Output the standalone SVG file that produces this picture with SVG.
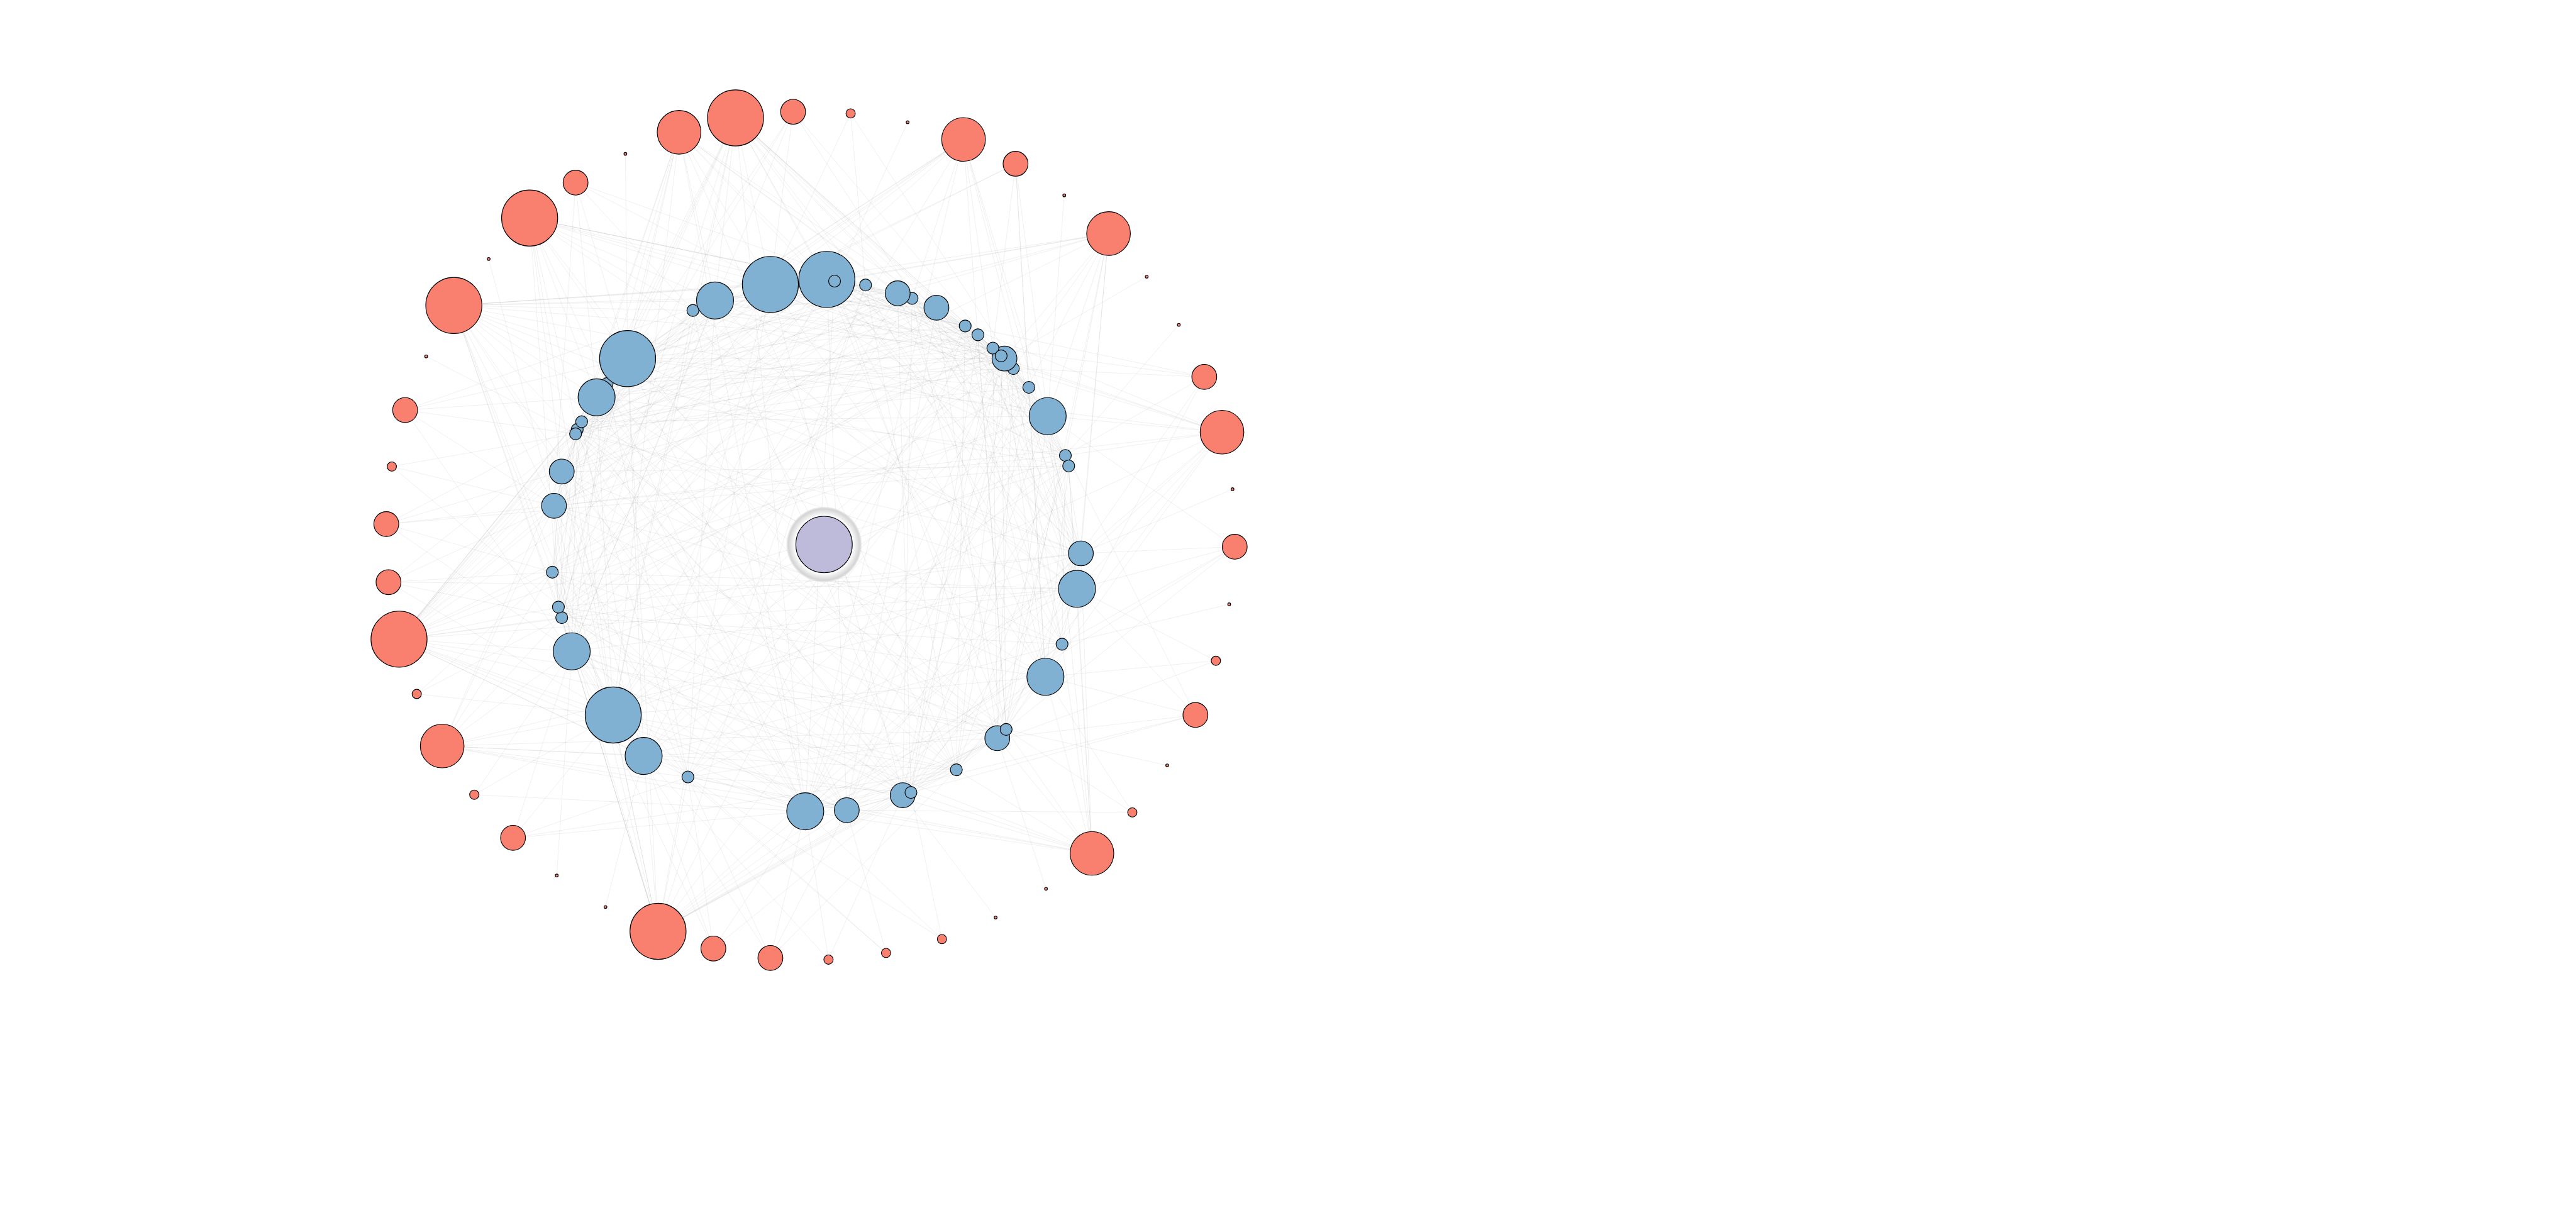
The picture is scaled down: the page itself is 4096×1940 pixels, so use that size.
<svg xmlns="http://www.w3.org/2000/svg" width="4096" height="1940" viewBox="0 0 4096 1940">
<style>
#edges path{fill:none;stroke:#8a8a8a;stroke-opacity:.15;stroke-width:1}
.node circle{stroke:#000;stroke-width:1.3}
.red circle{fill:#f9806f}
.blue circle{fill:#80b1d3}
.hub circle.core{fill:#bebada}
.hub circle.halo{fill:url(#halo);stroke:none}
</style>
<defs>
<radialGradient id="halo" cx="0.5" cy="0.5" r="0.5">
<stop offset="0.74" stop-color="#ffffff" stop-opacity="0"/>
<stop offset="0.82" stop-color="#f2f2f2"/>
<stop offset="0.95" stop-color="#d4d4d4"/>
<stop offset="1" stop-color="#dedede" stop-opacity="0.5"/>
</radialGradient>
</defs>
<rect width="4096" height="1940" fill="#ffffff"/>
<g transform="scale(0.88)">
<g id="edges">
<path d="M1134 648L1292 543"/><path d="M1252 561L1392 514"/><path d="M1292 543L1494 505"/><path d="M1392 514L1508 508"/><path d="M1494 505L1564 515"/><path d="M1508 508L1622 530"/><path d="M1564 515L1648 539"/><path d="M1622 530L1692 556"/><path d="M1648 539L1744 589"/><path d="M1692 556L1767 605"/><path d="M1744 589L1794 629"/><path d="M1767 605L1815 648"/><path d="M1794 629L1809 643"/><path d="M1815 648L1831 666"/><path d="M1809 643L1859 700"/><path d="M1831 666L1893 752"/><path d="M1859 700L1925 823"/><path d="M1893 752L1931 842"/><path d="M1925 823L1953 1000"/><path d="M1931 842L1946 1064"/><path d="M1953 1000L1919 1164"/><path d="M1946 1064L1889 1223"/><path d="M1919 1164L1818 1318"/><path d="M1889 1223L1802 1334"/><path d="M1818 1318L1728 1391"/><path d="M1802 1334L1646 1432"/><path d="M1728 1391L1631 1437"/><path d="M1646 1432L1530 1464"/><path d="M1631 1437L1455 1466"/><path d="M1530 1464L1243 1404"/><path d="M1455 1466L1163 1366"/><path d="M1243 1404L1108 1292"/><path d="M1163 1366L1033 1177"/><path d="M1108 1292L1015 1116"/><path d="M1033 1177L1009 1097"/><path d="M1015 1116L998 1034"/><path d="M1009 1097L1001 914"/><path d="M998 1034L1015 852"/><path d="M1001 914L1040 784"/><path d="M1015 852L1043 776"/><path d="M1040 784L1051 762"/><path d="M1043 776L1078 718"/><path d="M1051 762L1097 692"/><path d="M1078 718L1134 648"/><path d="M1097 692L1252 561"/>
<path d="M1134 648L1494 505"/><path d="M1252 561L1508 508"/><path d="M1292 543L1564 515"/><path d="M1392 514L1622 530"/><path d="M1494 505L1648 539"/><path d="M1508 508L1692 556"/><path d="M1564 515L1744 589"/><path d="M1622 530L1767 605"/><path d="M1648 539L1794 629"/><path d="M1692 556L1815 648"/><path d="M1744 589L1809 643"/><path d="M1767 605L1831 666"/><path d="M1794 629L1859 700"/><path d="M1815 648L1893 752"/><path d="M1809 643L1925 823"/><path d="M1831 666L1931 842"/><path d="M1859 700L1953 1000"/><path d="M1893 752L1946 1064"/><path d="M1925 823L1919 1164"/><path d="M1931 842L1889 1223"/><path d="M1953 1000L1818 1318"/><path d="M1946 1064L1802 1334"/><path d="M1919 1164L1728 1391"/><path d="M1889 1223L1646 1432"/><path d="M1818 1318L1631 1437"/><path d="M1802 1334L1530 1464"/><path d="M1728 1391L1455 1466"/><path d="M1646 1432L1243 1404"/><path d="M1631 1437L1163 1366"/><path d="M1530 1464L1108 1292"/><path d="M1455 1466L1033 1177"/><path d="M1243 1404L1015 1116"/><path d="M1163 1366L1009 1097"/><path d="M1108 1292L998 1034"/><path d="M1033 1177L1001 914"/><path d="M1015 1116L1015 852"/><path d="M1009 1097L1040 784"/><path d="M998 1034L1043 776"/><path d="M1001 914L1051 762"/><path d="M1015 852L1078 718"/><path d="M1040 784L1097 692"/><path d="M1043 776L1134 648"/><path d="M1051 762L1252 561"/><path d="M1078 718L1292 543"/><path d="M1097 692L1392 514"/>
<path d="M1134 648L1622 530"/><path d="M1252 561L1648 539"/><path d="M1292 543L1692 556"/><path d="M1392 514L1744 589"/><path d="M1494 505L1767 605"/><path d="M1508 508L1794 629"/><path d="M1564 515L1815 648"/><path d="M1622 530L1809 643"/><path d="M1648 539L1831 666"/><path d="M1692 556L1859 700"/><path d="M1744 589L1893 752"/><path d="M1767 605L1925 823"/><path d="M1794 629L1931 842"/><path d="M1815 648L1953 1000"/><path d="M1809 643L1946 1064"/><path d="M1831 666L1919 1164"/><path d="M1859 700L1889 1223"/><path d="M1893 752L1818 1318"/><path d="M1925 823L1802 1334"/><path d="M1931 842L1728 1391"/><path d="M1953 1000L1646 1432"/><path d="M1946 1064L1631 1437"/><path d="M1919 1164L1530 1464"/><path d="M1889 1223L1455 1466"/><path d="M1818 1318L1243 1404"/><path d="M1802 1334L1163 1366"/><path d="M1728 1391L1108 1292"/><path d="M1646 1432L1033 1177"/><path d="M1631 1437L1015 1116"/><path d="M1530 1464L1009 1097"/><path d="M1455 1466L998 1034"/><path d="M1243 1404L1001 914"/><path d="M1163 1366L1015 852"/><path d="M1108 1292L1040 784"/><path d="M1033 1177L1043 776"/><path d="M1015 1116L1051 762"/><path d="M1009 1097L1078 718"/><path d="M998 1034L1097 692"/><path d="M1001 914L1134 648"/><path d="M1015 852L1252 561"/><path d="M1040 784L1292 543"/><path d="M1043 776L1392 514"/><path d="M1051 762L1494 505"/><path d="M1078 718L1508 508"/><path d="M1097 692L1564 515"/>
<path d="M1134 648L1744 589"/><path d="M1252 561L1767 605"/><path d="M1292 543L1794 629"/><path d="M1392 514L1815 648"/><path d="M1494 505L1809 643"/><path d="M1508 508L1831 666"/><path d="M1564 515L1859 700"/><path d="M1622 530L1893 752"/><path d="M1648 539L1925 823"/><path d="M1692 556L1931 842"/><path d="M1744 589L1953 1000"/><path d="M1767 605L1946 1064"/><path d="M1794 629L1919 1164"/><path d="M1815 648L1889 1223"/><path d="M1809 643L1818 1318"/><path d="M1831 666L1802 1334"/><path d="M1859 700L1728 1391"/><path d="M1893 752L1646 1432"/><path d="M1925 823L1631 1437"/><path d="M1931 842L1530 1464"/><path d="M1953 1000L1455 1466"/><path d="M1946 1064L1243 1404"/><path d="M1919 1164L1163 1366"/><path d="M1889 1223L1108 1292"/><path d="M1818 1318L1033 1177"/><path d="M1802 1334L1015 1116"/><path d="M1728 1391L1009 1097"/><path d="M1646 1432L998 1034"/><path d="M1631 1437L1001 914"/><path d="M1530 1464L1015 852"/><path d="M1455 1466L1040 784"/><path d="M1243 1404L1043 776"/><path d="M1163 1366L1051 762"/><path d="M1108 1292L1078 718"/><path d="M1033 1177L1097 692"/><path d="M1015 1116L1134 648"/><path d="M1009 1097L1252 561"/><path d="M998 1034L1292 543"/><path d="M1001 914L1392 514"/><path d="M1015 852L1494 505"/><path d="M1040 784L1508 508"/><path d="M1043 776L1564 515"/><path d="M1051 762L1622 530"/><path d="M1078 718L1648 539"/><path d="M1097 692L1692 556"/>
<path d="M1134 648L1815 648"/><path d="M1252 561L1809 643"/><path d="M1292 543L1831 666"/><path d="M1392 514L1859 700"/><path d="M1494 505L1893 752"/><path d="M1508 508L1925 823"/><path d="M1564 515L1931 842"/><path d="M1622 530L1953 1000"/><path d="M1648 539L1946 1064"/><path d="M1692 556L1919 1164"/><path d="M1744 589L1889 1223"/><path d="M1767 605L1818 1318"/><path d="M1794 629L1802 1334"/><path d="M1815 648L1728 1391"/><path d="M1809 643L1646 1432"/><path d="M1831 666L1631 1437"/><path d="M1859 700L1530 1464"/><path d="M1893 752L1455 1466"/><path d="M1925 823L1243 1404"/><path d="M1931 842L1163 1366"/><path d="M1953 1000L1108 1292"/><path d="M1946 1064L1033 1177"/><path d="M1919 1164L1015 1116"/><path d="M1889 1223L1009 1097"/><path d="M1818 1318L998 1034"/><path d="M1802 1334L1001 914"/><path d="M1728 1391L1015 852"/><path d="M1646 1432L1040 784"/><path d="M1631 1437L1043 776"/><path d="M1530 1464L1051 762"/><path d="M1455 1466L1078 718"/><path d="M1243 1404L1097 692"/><path d="M1163 1366L1134 648"/><path d="M1108 1292L1252 561"/><path d="M1033 1177L1292 543"/><path d="M1015 1116L1392 514"/><path d="M1009 1097L1494 505"/><path d="M998 1034L1508 508"/><path d="M1001 914L1564 515"/><path d="M1015 852L1622 530"/><path d="M1040 784L1648 539"/><path d="M1043 776L1692 556"/><path d="M1051 762L1744 589"/><path d="M1078 718L1767 605"/><path d="M1097 692L1794 629"/>
<path d="M1134 648L1859 700"/><path d="M1252 561L1893 752"/><path d="M1292 543L1925 823"/><path d="M1392 514L1931 842"/><path d="M1494 505L1953 1000"/><path d="M1508 508L1946 1064"/><path d="M1564 515L1919 1164"/><path d="M1622 530L1889 1223"/><path d="M1648 539L1818 1318"/><path d="M1692 556L1802 1334"/><path d="M1744 589L1728 1391"/><path d="M1767 605L1646 1432"/><path d="M1794 629L1631 1437"/><path d="M1815 648L1530 1464"/><path d="M1809 643L1455 1466"/><path d="M1831 666L1243 1404"/><path d="M1859 700L1163 1366"/><path d="M1893 752L1108 1292"/><path d="M1925 823L1033 1177"/><path d="M1931 842L1015 1116"/><path d="M1953 1000L1009 1097"/><path d="M1946 1064L998 1034"/><path d="M1919 1164L1001 914"/><path d="M1889 1223L1015 852"/><path d="M1818 1318L1040 784"/><path d="M1802 1334L1043 776"/><path d="M1728 1391L1051 762"/><path d="M1646 1432L1078 718"/><path d="M1631 1437L1097 692"/><path d="M1530 1464L1134 648"/><path d="M1455 1466L1252 561"/><path d="M1243 1404L1292 543"/><path d="M1163 1366L1392 514"/><path d="M1108 1292L1494 505"/><path d="M1033 1177L1508 508"/><path d="M1015 1116L1564 515"/><path d="M1009 1097L1622 530"/><path d="M998 1034L1648 539"/><path d="M1001 914L1692 556"/><path d="M1015 852L1744 589"/><path d="M1040 784L1767 605"/><path d="M1043 776L1794 629"/><path d="M1051 762L1815 648"/><path d="M1078 718L1809 643"/><path d="M1097 692L1831 666"/>
<path d="M1134 648L1953 1000"/><path d="M1252 561L1946 1064"/><path d="M1292 543L1919 1164"/><path d="M1392 514L1889 1223"/><path d="M1494 505L1818 1318"/><path d="M1508 508L1802 1334"/><path d="M1564 515L1728 1391"/><path d="M1622 530L1646 1432"/><path d="M1648 539L1631 1437"/><path d="M1692 556L1530 1464"/><path d="M1744 589L1455 1466"/><path d="M1767 605L1243 1404"/><path d="M1794 629L1163 1366"/><path d="M1815 648L1108 1292"/><path d="M1809 643L1033 1177"/><path d="M1831 666L1015 1116"/><path d="M1859 700L1009 1097"/><path d="M1893 752L998 1034"/><path d="M1925 823L1001 914"/><path d="M1931 842L1015 852"/><path d="M1953 1000L1040 784"/><path d="M1946 1064L1043 776"/><path d="M1919 1164L1051 762"/><path d="M1889 1223L1078 718"/><path d="M1818 1318L1097 692"/><path d="M1802 1334L1134 648"/><path d="M1728 1391L1252 561"/><path d="M1646 1432L1292 543"/><path d="M1631 1437L1392 514"/><path d="M1530 1464L1494 505"/><path d="M1455 1466L1508 508"/><path d="M1243 1404L1564 515"/><path d="M1163 1366L1622 530"/><path d="M1108 1292L1648 539"/><path d="M1033 1177L1692 556"/><path d="M1015 1116L1744 589"/><path d="M1009 1097L1767 605"/><path d="M998 1034L1794 629"/><path d="M1001 914L1815 648"/><path d="M1015 852L1809 643"/><path d="M1040 784L1831 666"/><path d="M1043 776L1859 700"/><path d="M1051 762L1893 752"/><path d="M1078 718L1925 823"/><path d="M1097 692L1931 842"/>
<path d="M721 1155L1243 1404"/><path d="M721 1155L1163 1366"/><path d="M721 1155L1108 1292"/><path d="M721 1155L1033 1177"/><path d="M721 1155L1015 1116"/><path d="M721 1155L998 1034"/><path d="M721 1155L1001 914"/><path d="M721 1155L1015 852"/><path d="M721 1155L1040 784"/><path d="M721 1155L1051 762"/><path d="M721 1155L1078 718"/><path d="M721 1155L1134 648"/><path d="M721 1155L1292 543"/><path d="M721 1155L1530 1464"/><path d="M721 1155L1728 1391"/><path d="M721 1155L1946 1064"/><path d="M721 1155L1252 561"/><path d="M721 1155L1392 514"/><path d="M721 1155L1097 692"/><path d="M721 1155L1043 776"/><path d="M721 1155L1009 1097"/><path d="M721 1155L1455 1466"/><path d="M721 1155L1818 1318"/><path d="M721 1155L1953 1000"/><path d="M721 1155L1893 752"/><path d="M721 1155L1794 629"/><path d="M721 1155L1622 530"/><path d="M721 1155L1508 508"/>
<path d="M1189 1683L1033 1177"/><path d="M1189 1683L1108 1292"/><path d="M1189 1683L1163 1366"/><path d="M1189 1683L1243 1404"/><path d="M1189 1683L1455 1466"/><path d="M1189 1683L1530 1464"/><path d="M1189 1683L1631 1437"/><path d="M1189 1683L1646 1432"/><path d="M1189 1683L1728 1391"/><path d="M1189 1683L1802 1334"/><path d="M1189 1683L1009 1097"/><path d="M1189 1683L1001 914"/><path d="M1189 1683L1953 1000"/><path d="M1189 1683L998 1034"/><path d="M1189 1683L1015 1116"/><path d="M1189 1683L1015 852"/><path d="M1189 1683L1134 648"/><path d="M1189 1683L1392 514"/><path d="M1189 1683L1919 1164"/><path d="M1189 1683L1818 1318"/><path d="M1189 1683L1893 752"/><path d="M1189 1683L1744 589"/><path d="M1189 1683L1564 515"/>
<path d="M820 552L1392 514"/><path d="M820 552L1292 543"/><path d="M820 552L1252 561"/><path d="M820 552L1134 648"/><path d="M820 552L1097 692"/><path d="M820 552L1078 718"/><path d="M820 552L1040 784"/><path d="M820 552L1001 914"/><path d="M820 552L998 1034"/><path d="M820 552L1033 1177"/><path d="M820 552L1494 505"/><path d="M820 552L1953 1000"/><path d="M820 552L1508 508"/><path d="M820 552L1622 530"/><path d="M820 552L1794 629"/><path d="M820 552L1893 752"/><path d="M820 552L1015 852"/><path d="M820 552L1015 1116"/><path d="M820 552L1108 1292"/><path d="M820 552L1455 1466"/><path d="M820 552L1802 1334"/>
<path d="M957 394L1392 514"/><path d="M957 394L1292 543"/><path d="M957 394L1252 561"/><path d="M957 394L1134 648"/><path d="M957 394L1078 718"/><path d="M957 394L1015 852"/><path d="M957 394L1009 1097"/><path d="M957 394L1108 1292"/><path d="M957 394L1508 508"/><path d="M957 394L1744 589"/><path d="M957 394L1494 505"/><path d="M957 394L1622 530"/><path d="M957 394L1831 666"/><path d="M957 394L1946 1064"/><path d="M957 394L1728 1391"/><path d="M957 394L1455 1466"/><path d="M957 394L1043 776"/>
<path d="M1329 213L1134 648"/><path d="M1329 213L1097 692"/><path d="M1329 213L1252 561"/><path d="M1329 213L1292 543"/><path d="M1329 213L1392 514"/><path d="M1329 213L1815 648"/><path d="M1329 213L1859 700"/><path d="M1329 213L1893 752"/><path d="M1329 213L1946 1064"/><path d="M1329 213L1033 1177"/><path d="M1329 213L1001 914"/><path d="M1329 213L1744 589"/><path d="M1329 213L1794 629"/><path d="M1329 213L1494 505"/><path d="M1329 213L1564 515"/><path d="M1329 213L1648 539"/><path d="M1329 213L1931 842"/><path d="M1329 213L1889 1223"/><path d="M1329 213L1455 1466"/><path d="M1329 213L1108 1292"/><path d="M1329 213L1040 784"/>
<path d="M1227 239L1097 692"/><path d="M1227 239L1134 648"/><path d="M1227 239L1001 914"/><path d="M1227 239L1015 1116"/><path d="M1227 239L1292 543"/><path d="M1227 239L1392 514"/><path d="M1227 239L1859 700"/><path d="M1227 239L1108 1292"/><path d="M1227 239L1767 605"/><path d="M1227 239L1494 505"/><path d="M1227 239L1622 530"/><path d="M1227 239L1953 1000"/><path d="M1227 239L1728 1391"/><path d="M1227 239L1455 1466"/><path d="M1227 239L1043 776"/>
<path d="M1741 252L1134 648"/><path d="M1741 252L1097 692"/><path d="M1741 252L1078 718"/><path d="M1741 252L1392 514"/><path d="M1741 252L1292 543"/><path d="M1741 252L1794 629"/><path d="M1741 252L1893 752"/><path d="M1741 252L1818 1318"/><path d="M1741 252L1953 1000"/><path d="M1741 252L1001 914"/><path d="M1741 252L1648 539"/><path d="M1741 252L1946 1064"/><path d="M1741 252L1455 1466"/><path d="M1741 252L1108 1292"/>
<path d="M2003 422L1392 514"/><path d="M2003 422L1292 543"/><path d="M2003 422L1508 508"/><path d="M2003 422L1893 752"/><path d="M2003 422L1925 823"/><path d="M2003 422L1831 666"/><path d="M2003 422L1815 648"/><path d="M2003 422L1953 1000"/><path d="M2003 422L1946 1064"/><path d="M2003 422L1455 1466"/><path d="M2003 422L1134 648"/><path d="M2003 422L1622 530"/><path d="M2003 422L1818 1318"/><path d="M2003 422L1001 914"/>
<path d="M2208 781L1893 752"/><path d="M2208 781L1925 823"/><path d="M2208 781L1953 1000"/><path d="M2208 781L1946 1064"/><path d="M2208 781L1815 648"/><path d="M2208 781L1744 589"/><path d="M2208 781L1134 648"/><path d="M2208 781L1889 1223"/><path d="M2208 781L1728 1391"/><path d="M2208 781L1392 514"/><path d="M2208 781L1831 666"/><path d="M2208 781L1455 1466"/><path d="M2208 781L1108 1292"/><path d="M2208 781L1001 914"/>
<path d="M1973 1542L1946 1064"/><path d="M1973 1542L1919 1164"/><path d="M1973 1542L1889 1223"/><path d="M1973 1542L1818 1318"/><path d="M1973 1542L1802 1334"/><path d="M1973 1542L1646 1432"/><path d="M1973 1542L1530 1464"/><path d="M1973 1542L1455 1466"/><path d="M1973 1542L1108 1292"/><path d="M1973 1542L1243 1404"/><path d="M1973 1542L1931 842"/><path d="M1973 1542L1953 1000"/><path d="M1973 1542L1728 1391"/><path d="M1973 1542L1033 1177"/><path d="M1973 1542L1893 752"/>
<path d="M799 1348L1108 1292"/><path d="M799 1348L1163 1366"/><path d="M799 1348L1033 1177"/><path d="M799 1348L1015 1116"/><path d="M799 1348L998 1034"/><path d="M799 1348L1015 852"/><path d="M799 1348L1243 1404"/><path d="M799 1348L1455 1466"/><path d="M799 1348L1818 1318"/><path d="M799 1348L1001 914"/><path d="M799 1348L1530 1464"/><path d="M799 1348L1728 1391"/><path d="M799 1348L1946 1064"/>
<path d="M1433 202L1134 648"/><path d="M1433 202L1392 514"/><path d="M1433 202L1859 700"/><path d="M1433 202L1001 914"/><path d="M1433 202L1033 1177"/><path d="M1433 202L1953 1000"/>
<path d="M1835 296L1893 752"/><path d="M1835 296L1859 700"/><path d="M1835 296L1794 629"/><path d="M1835 296L1134 648"/><path d="M1835 296L1392 514"/><path d="M1835 296L1889 1223"/>
<path d="M2176 681L1925 823"/><path d="M2176 681L1953 1000"/><path d="M2176 681L1831 666"/><path d="M2176 681L1794 629"/><path d="M2176 681L1919 1164"/><path d="M2176 681L1392 514"/>
<path d="M2231 988L1953 1000"/><path d="M2231 988L1946 1064"/><path d="M2231 988L1919 1164"/><path d="M2231 988L1893 752"/><path d="M2231 988L1818 1318"/><path d="M2231 988L1455 1466"/>
<path d="M2160 1292L1946 1064"/><path d="M2160 1292L1889 1223"/><path d="M2160 1292L1802 1334"/><path d="M2160 1292L1455 1466"/><path d="M2160 1292L1530 1464"/><path d="M2160 1292L1893 752"/>
<path d="M1392 1731L1455 1466"/><path d="M1392 1731L1530 1464"/><path d="M1392 1731L1243 1404"/><path d="M1392 1731L1108 1292"/><path d="M1392 1731L1728 1391"/>
<path d="M1289 1714L1163 1366"/><path d="M1289 1714L1243 1404"/><path d="M1289 1714L1455 1466"/><path d="M1289 1714L1033 1177"/><path d="M1289 1714L1631 1437"/>
<path d="M927 1514L1108 1292"/><path d="M927 1514L1033 1177"/><path d="M927 1514L1243 1404"/><path d="M927 1514L1455 1466"/><path d="M927 1514L1728 1391"/>
<path d="M702 1052L998 1034"/><path d="M702 1052L1001 914"/><path d="M702 1052L1015 1116"/><path d="M702 1052L1108 1292"/><path d="M702 1052L1946 1064"/><path d="M702 1052L1040 784"/>
<path d="M698 947L1001 914"/><path d="M698 947L1015 852"/><path d="M698 947L998 1034"/><path d="M698 947L1033 1177"/><path d="M698 947L1051 762"/><path d="M698 947L1931 842"/>
<path d="M732 741L1040 784"/><path d="M732 741L1078 718"/><path d="M732 741L1001 914"/><path d="M732 741L1134 648"/><path d="M732 741L1292 543"/><path d="M732 741L1108 1292"/>
<path d="M1040 330L1134 648"/><path d="M1040 330L1252 561"/><path d="M1040 330L1392 514"/><path d="M1040 330L1078 718"/><path d="M1040 330L1001 914"/><path d="M1040 330L1564 515"/>
<path d="M1537 205L1392 514"/><path d="M1537 205L1564 515"/><path d="M1537 205L1859 700"/>
<path d="M2197 1194L1946 1064"/><path d="M2197 1194L1889 1223"/><path d="M2197 1194L1455 1466"/>
<path d="M2046 1468L1889 1223"/><path d="M2046 1468L1818 1318"/><path d="M2046 1468L1530 1464"/>
<path d="M1702 1697L1646 1432"/><path d="M1702 1697L1455 1466"/><path d="M1702 1697L1243 1404"/>
<path d="M1601 1722L1530 1464"/><path d="M1601 1722L1243 1404"/><path d="M1601 1722L1108 1292"/>
<path d="M1497 1734L1455 1466"/><path d="M1497 1734L1163 1366"/><path d="M1497 1734L1631 1437"/>
<path d="M857 1436L1108 1292"/><path d="M857 1436L1033 1177"/><path d="M857 1436L1455 1466"/>
<path d="M753 1254L1015 1116"/><path d="M753 1254L1108 1292"/><path d="M753 1254L998 1034"/>
<path d="M708 843L1001 914"/><path d="M708 843L1040 784"/><path d="M708 843L1455 1466"/>
<path d="M1130 278L1134 648"/><path d="M1640 221L1508 508"/><path d="M1923 353L1893 752"/><path d="M2072 500L1815 648"/><path d="M2130 587L1925 823"/><path d="M2227 884L1953 1000"/><path d="M2221 1092L1919 1164"/><path d="M2109 1383L1818 1318"/><path d="M1890 1606L1802 1334"/><path d="M1799 1658L1631 1437"/><path d="M1094 1639L1163 1366"/><path d="M1006 1582L1033 1177"/><path d="M770 644L1040 784"/><path d="M883 468L1001 914"/>
</g>
<g id="nodes">
<g id="hub" class="node hub"><circle class="halo" cx="1489" cy="984" r="68"/><circle class="core" cx="1489" cy="984" r="51"/></g>
<g id="b41" class="node blue"><circle cx="1097" cy="693" r="10.8"/></g>
<g id="b39" class="node blue"><circle cx="1043" cy="776" r="10.8"/></g>
<g id="b7" class="node blue"><circle cx="1648" cy="539" r="10.8"/></g>
<g id="b13" class="node blue"><circle cx="1831" cy="666" r="10.8"/></g>
<g id="b43" class="node blue"><circle cx="1134" cy="648" r="50.7"/></g>
<g id="b4" class="node blue"><circle cx="1252" cy="561" r="10.8"/></g>
<g id="b3" class="node blue"><circle cx="1292" cy="543" r="33.5"/></g>
<g id="b1" class="node blue"><circle cx="1392" cy="514" r="50.7"/></g>
<g id="b2" class="node blue"><circle cx="1494" cy="505" r="50.7"/></g>
<g id="b2b" class="node blue"><circle cx="1508" cy="508" r="10.8"/></g>
<g id="b5" class="node blue"><circle cx="1564" cy="515" r="10.8"/></g>
<g id="b6" class="node blue"><circle cx="1622" cy="530" r="22.5"/></g>
<g id="b8" class="node blue"><circle cx="1692" cy="556" r="22.5"/></g>
<g id="b9" class="node blue"><circle cx="1744" cy="589" r="10.8"/></g>
<g id="b10" class="node blue"><circle cx="1767" cy="605" r="10.8"/></g>
<g id="b12" class="node blue"><circle cx="1815" cy="648" r="22.5"/></g>
<g id="b11" class="node blue"><circle cx="1794" cy="629" r="10.8"/></g>
<g id="b12b" class="node blue"><circle cx="1809" cy="643" r="10.8"/></g>
<g id="b14" class="node blue"><circle cx="1859" cy="700" r="10.8"/></g>
<g id="b15" class="node blue"><circle cx="1893" cy="752" r="33.5"/></g>
<g id="b16" class="node blue"><circle cx="1925" cy="823" r="10.8"/></g>
<g id="b17" class="node blue"><circle cx="1931" cy="842" r="10.8"/></g>
<g id="b18" class="node blue"><circle cx="1953" cy="1000" r="22.5"/></g>
<g id="b19" class="node blue"><circle cx="1946" cy="1064" r="33.5"/></g>
<g id="b20" class="node blue"><circle cx="1919" cy="1164" r="10.8"/></g>
<g id="b21" class="node blue"><circle cx="1889" cy="1223" r="33.5"/></g>
<g id="b22" class="node blue"><circle cx="1802" cy="1334" r="22.5"/></g>
<g id="b23" class="node blue"><circle cx="1818" cy="1318" r="10.8"/></g>
<g id="b24" class="node blue"><circle cx="1728" cy="1391" r="10.8"/></g>
<g id="b25" class="node blue"><circle cx="1631" cy="1437" r="22.5"/></g>
<g id="b26" class="node blue"><circle cx="1646" cy="1432" r="10.8"/></g>
<g id="b27" class="node blue"><circle cx="1530" cy="1464" r="22.5"/></g>
<g id="b28" class="node blue"><circle cx="1455" cy="1466" r="33.5"/></g>
<g id="b29" class="node blue"><circle cx="1243" cy="1404" r="10.8"/></g>
<g id="b30" class="node blue"><circle cx="1163" cy="1366" r="33.5"/></g>
<g id="b31" class="node blue"><circle cx="1108" cy="1292" r="50.7"/></g>
<g id="b32" class="node blue"><circle cx="1033" cy="1177" r="33.5"/></g>
<g id="b33" class="node blue"><circle cx="1015" cy="1116" r="10.8"/></g>
<g id="b34" class="node blue"><circle cx="1009" cy="1097" r="10.8"/></g>
<g id="b35" class="node blue"><circle cx="998" cy="1034" r="10.8"/></g>
<g id="b36" class="node blue"><circle cx="1001" cy="914" r="22.5"/></g>
<g id="b37" class="node blue"><circle cx="1015" cy="852" r="22.5"/></g>
<g id="b38" class="node blue"><circle cx="1040" cy="784" r="10.8"/></g>
<g id="b40" class="node blue"><circle cx="1051" cy="762" r="10.8"/></g>
<g id="b42" class="node blue"><circle cx="1078" cy="718" r="33.5"/></g>
<g id="r1" class="node red"><circle cx="1130" cy="278" r="2.6"/></g>
<g id="r2" class="node red"><circle cx="1227" cy="239" r="39.5"/></g>
<g id="r3" class="node red"><circle cx="1329" cy="213" r="50.7"/></g>
<g id="r4" class="node red"><circle cx="1433" cy="202" r="22.5"/></g>
<g id="r5" class="node red"><circle cx="1537" cy="205" r="8.4"/></g>
<g id="r6" class="node red"><circle cx="1640" cy="221" r="2.6"/></g>
<g id="r7" class="node red"><circle cx="1741" cy="252" r="39.5"/></g>
<g id="r8" class="node red"><circle cx="1835" cy="296" r="22.5"/></g>
<g id="r9" class="node red"><circle cx="1923" cy="353" r="2.6"/></g>
<g id="r10" class="node red"><circle cx="2003" cy="422" r="39.5"/></g>
<g id="r11" class="node red"><circle cx="2072" cy="500" r="2.6"/></g>
<g id="r12" class="node red"><circle cx="2130" cy="587" r="2.6"/></g>
<g id="r13" class="node red"><circle cx="2176" cy="681" r="22.5"/></g>
<g id="r14" class="node red"><circle cx="2208" cy="781" r="39.5"/></g>
<g id="r15" class="node red"><circle cx="2227" cy="884" r="2.6"/></g>
<g id="r16" class="node red"><circle cx="2231" cy="988" r="22.5"/></g>
<g id="r17" class="node red"><circle cx="2221" cy="1092" r="2.6"/></g>
<g id="r18" class="node red"><circle cx="2197" cy="1194" r="8.4"/></g>
<g id="r19" class="node red"><circle cx="2160" cy="1292" r="22.5"/></g>
<g id="r20" class="node red"><circle cx="2109" cy="1383" r="2.6"/></g>
<g id="r21" class="node red"><circle cx="2046" cy="1468" r="8.4"/></g>
<g id="r22" class="node red"><circle cx="1973" cy="1542" r="39.5"/></g>
<g id="r23" class="node red"><circle cx="1890" cy="1606" r="2.6"/></g>
<g id="r24" class="node red"><circle cx="1799" cy="1658" r="2.6"/></g>
<g id="r25" class="node red"><circle cx="1702" cy="1697" r="8.4"/></g>
<g id="r26" class="node red"><circle cx="1601" cy="1722" r="8.4"/></g>
<g id="r27" class="node red"><circle cx="1497" cy="1734" r="8.4"/></g>
<g id="r28" class="node red"><circle cx="1392" cy="1731" r="22.5"/></g>
<g id="r29" class="node red"><circle cx="1289" cy="1714" r="22.5"/></g>
<g id="r30" class="node red"><circle cx="1189" cy="1683" r="50.7"/></g>
<g id="r31" class="node red"><circle cx="1094" cy="1639" r="2.6"/></g>
<g id="r32" class="node red"><circle cx="1006" cy="1582" r="2.6"/></g>
<g id="r33" class="node red"><circle cx="927" cy="1514" r="22.5"/></g>
<g id="r34" class="node red"><circle cx="857" cy="1436" r="8.4"/></g>
<g id="r35" class="node red"><circle cx="799" cy="1348" r="39.5"/></g>
<g id="r36" class="node red"><circle cx="753" cy="1254" r="8.4"/></g>
<g id="r37" class="node red"><circle cx="721" cy="1155" r="50.7"/></g>
<g id="r38" class="node red"><circle cx="702" cy="1052" r="22.5"/></g>
<g id="r39" class="node red"><circle cx="698" cy="947" r="22.5"/></g>
<g id="r40" class="node red"><circle cx="708" cy="843" r="8.4"/></g>
<g id="r41" class="node red"><circle cx="732" cy="741" r="22.5"/></g>
<g id="r42" class="node red"><circle cx="770" cy="644" r="2.6"/></g>
<g id="r43" class="node red"><circle cx="820" cy="552" r="50.7"/></g>
<g id="r44" class="node red"><circle cx="883" cy="468" r="2.6"/></g>
<g id="r45" class="node red"><circle cx="957" cy="394" r="50.7"/></g>
<g id="r46" class="node red"><circle cx="1040" cy="330" r="22.5"/></g>
</g>
</g>
</svg>
